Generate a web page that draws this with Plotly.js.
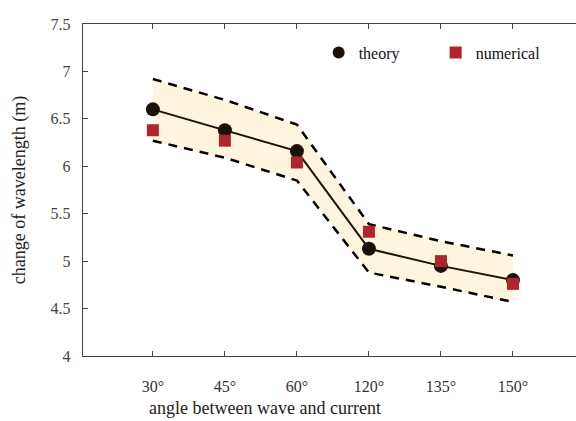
<!DOCTYPE html>
<html><head><meta charset="utf-8">
<script src="https://cdn.plot.ly/plotly-3.0.1.min.js"></script>
<style>html,body{margin:0;padding:0;background:#fff;}#chart{width:576px;height:421px;}</style>
</head><body><div id="chart"></div>
<script>
const categories = ['30°','45°','60°','120°','135°','150°'];
const theory = [6.60, 6.38, 6.16, 5.13, 4.95, 4.80];
const numerical = [6.38, 6.27, 6.04, 5.31, 5.00, 4.76];
const upperBound = [6.92, 6.70, 6.44, 5.39, 5.21, 5.06];
const lowerBound = [6.27, 6.09, 5.85, 4.88, 4.73, 4.57];
const yTicks = [4, 4.5, 5, 5.5, 6, 6.5, 7, 7.5];
const yTickText = ['4','4.5','5','5.5','6','6.5','7','7.5'];
const xTitle = 'angle between wave and current';
const yTitle = 'change of wavelength (m)';

const xi = categories.map((c,i)=>i);
const traces = [
  {x: xi, y: lowerBound, mode:'lines', line:{color:'#000', width:2.5, dash:'9px,7px'}, showlegend:false, hoverinfo:'skip'},
  {x: xi, y: upperBound, mode:'lines', fill:'tonexty', fillcolor:'rgb(255,245,222)', line:{color:'#000', width:2.5, dash:'9px,7px'}, showlegend:false, hoverinfo:'skip'},
  {x: xi, y: theory, mode:'lines', line:{color:'#1a1208', width:2}, showlegend:false, hoverinfo:'skip'},
  {x: xi, y: theory, name:'theory', mode:'markers', marker:{symbol:'circle', size:14, color:'#1a1208'}},
  {x: xi, y: numerical, name:'numerical', mode:'markers', marker:{symbol:'square', size:12, color:'#b0242c'}}
];
const fam = 'Liberation Serif';
const layout = {
  width:576, height:421,
  margin:{l:83, r:0, t:24, b:65},
  paper_bgcolor:'#fff', plot_bgcolor:'#fff',
  font: {family:fam, color:'#333'},
  showlegend:true,
  legend:{orientation:'h', traceorder:'normal', x:0.478, y:0.965, xanchor:'left', yanchor:'top', entrywidth:72,
    font:{family:fam, size:16, color:'#111'}, bgcolor:'rgba(0,0,0,0)', itemsizing:'constant'},
  xaxis:{
    range:[-0.97, 5.875], tickvals: xi, ticktext: categories, automargin:false,
    showgrid:false, zeroline:false, showline:true, linecolor:'#444', linewidth:1.2, mirror:'ticks',
    ticks:'inside', ticklen:5, tickcolor:'#444', ticklabelstandoff:16,
    tickfont:{family:fam, size:16, color:'#333'}
  },
  yaxis:{
    range:[4, 7.5], tickvals:yTicks, ticktext:yTickText, automargin:false,
    showgrid:false, zeroline:false, showline:true, linecolor:'#444', linewidth:1.2, mirror:false,
    ticks:'inside', ticklen:5, tickcolor:'#444', ticklabelstandoff:8,
    tickfont:{family:fam, size:16, color:'#444'},
    title:{text:yTitle, font:{family:fam, size:18, color:'#222'}, standoff:20}
  },
  annotations:[
    {text:xTitle, xref:'paper', yref:'paper', x:(265-83)/493, y:-(408-356)/332, xanchor:'center', yanchor:'middle',
     showarrow:false, font:{family:fam, size:18, color:'#222'}}
  ]
};
Plotly.newPlot('chart', traces, layout, {staticPlot:true, displayModeBar:false});
</script></body></html>
